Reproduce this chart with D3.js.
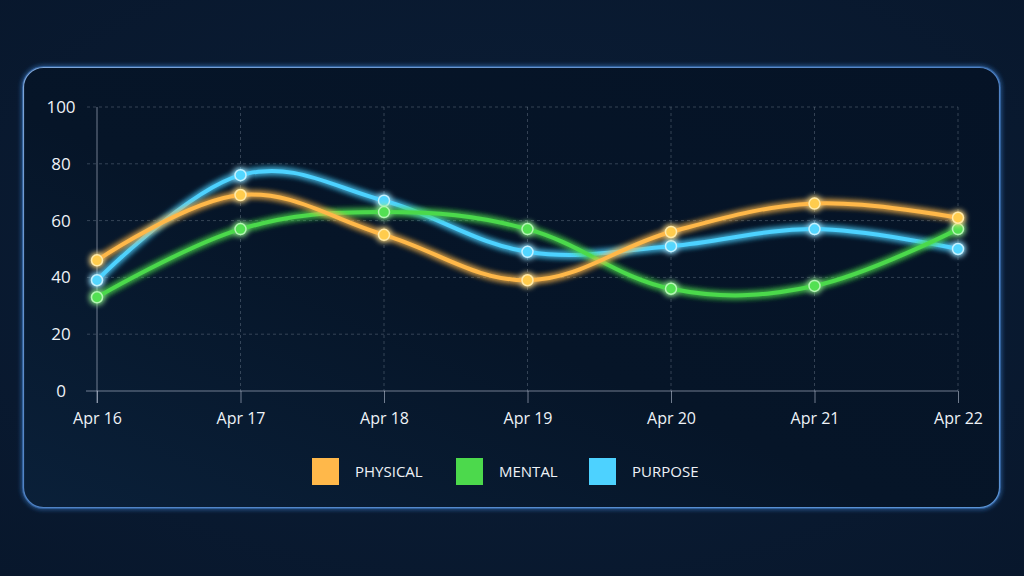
<!DOCTYPE html>
<html>
<head>
<meta charset="utf-8">
<script src="https://cdn.jsdelivr.net/npm/d3@7"></script>
<style>
  body { margin: 0; background: #0a1c34; }
  svg { display: block; font-family: "Open Sans", "Noto Sans", sans-serif; }
</style>
</head>
<body>
<div id="chart-area"></div>
<script>
// Daily wellbeing scores, one value per day

var dates = ["Apr 16", "Apr 17", "Apr 18", "Apr 19", "Apr 20", "Apr 21", "Apr 22"];
var physical = [46, 69, 55, 39, 56, 66, 61];
var mental   = [33, 57, 63, 57, 36, 37, 57];
var purpose  = [39, 76, 67, 49, 51, 57, 50];
var yTicks = [0, 20, 40, 60, 80, 100];

var seriesNames  = ["PHYSICAL", "MENTAL", "PURPOSE"];
var seriesColors = ["#ffb84a", "#4cd94c", "#4dd2ff"];
var pointFills   = ["#ffcc4d", "#52e052", "#52d6ff"];
var pointRings   = ["#ffeaa8", "#b4f5b4", "#c4f1ff"];

var width = 1024, height = 576;
var plot = { left: 97, right: 958, top: 107, bottom: 391 };

var svg = d3.select("#chart-area")
    .append("svg")
        .attr("width", width)
        .attr("height", height);

var defs = svg.append("defs");

// background + card gradients
var bg = defs.append("radialGradient").attr("id", "bg")
    .attr("cx", "50%").attr("cy", "45%").attr("r", "75%");
bg.append("stop").attr("offset", "0%").attr("stop-color", "#0b1e37");
bg.append("stop").attr("offset", "100%").attr("stop-color", "#08172c");

var card = defs.append("linearGradient").attr("id", "card")
    .attr("x1", "0").attr("y1", "1").attr("x2", "1").attr("y2", "0");
card.append("stop").attr("offset", "0%").attr("stop-color", "#0a2039");
card.append("stop").attr("offset", "45%").attr("stop-color", "#061528");
card.append("stop").attr("offset", "100%").attr("stop-color", "#051326");

var border = defs.append("linearGradient").attr("id", "border")
    .attr("x1", "0").attr("y1", "0").attr("x2", "1").attr("y2", "1");
border.append("stop").attr("offset", "0%").attr("stop-color", "#7ea6d8");
border.append("stop").attr("offset", "50%").attr("stop-color", "#4f82c4");
border.append("stop").attr("offset", "100%").attr("stop-color", "#5b94d6");

// glow filter
function glow(id, sd) {
    var f = defs.append("filter").attr("id", id)
        .attr("x", "-20%").attr("y", "-20%").attr("width", "140%").attr("height", "140%");
    f.append("feGaussianBlur").attr("in", "SourceGraphic").attr("stdDeviation", sd).attr("result", "blur");
    var m = f.append("feMerge");
    m.append("feMergeNode").attr("in", "blur");
    m.append("feMergeNode").attr("in", "blur");
    m.append("feMergeNode").attr("in", "SourceGraphic");
}
glow("glow", 3);
glow("cardGlow", 2.5);

svg.append("rect")
    .attr("width", width).attr("height", height)
    .attr("fill", "url(#bg)");

svg.append("rect")
    .attr("x", 23.5).attr("y", 67.5)
    .attr("width", 976).attr("height", 440)
    .attr("rx", 20)
    .attr("fill", "none")
    .attr("stroke", "#3f7cc8")
    .attr("stroke-opacity", 0.5)
    .attr("stroke-width", 3)
    .attr("filter", "url(#cardGlow)");

svg.append("rect")
    .attr("x", 23.5).attr("y", 67.5)
    .attr("width", 976).attr("height", 440)
    .attr("rx", 20)
    .attr("fill", "url(#card)")
    .attr("stroke", "url(#border)")
    .attr("stroke-width", 1.2);

//////////  Scales  ///////////
var x = d3.scalePoint()
    .domain(dates)
    .range([plot.left, plot.right]);

var y = d3.scaleLinear()
    .domain([0, 100])
    .range([plot.bottom, plot.top]);

//////////  Grid  ///////////
var gridColor = "rgba(160,172,190,0.3)";

svg.append("g").selectAll("line.hgrid")
    .data(yTicks.filter(function(d){ return d > 0; }))
    .enter().append("line")
        .attr("x1", plot.left - 10).attr("x2", plot.right)
        .attr("y1", function(d){ return y(d); })
        .attr("y2", function(d){ return y(d); })
        .attr("stroke", gridColor)
        .attr("stroke-dasharray", "3,3");

svg.append("g").selectAll("line.vgrid")
    .data(dates.slice(1))
    .enter().append("line")
        .attr("x1", function(d){ return x(d); })
        .attr("x2", function(d){ return x(d); })
        .attr("y1", plot.top).attr("y2", plot.bottom)
        .attr("stroke", gridColor)
        .attr("stroke-dasharray", "3,3");

//////////  Axes  ///////////
var axisColor = "rgba(200,210,225,0.55)";

// X-Axis
var xAxis = svg.append("g")
    .attr("transform", "translate(0," + plot.bottom + ")")
    .call(d3.axisBottom(x).tickSize(12).tickPadding(10));
xAxis.select(".domain").remove();
xAxis.selectAll("line").attr("stroke", axisColor);
xAxis.selectAll("text")
    .attr("fill", "#eef2f7")
    .attr("font-size", "16px")
    .attr("font-family", "'Open Sans', sans-serif");

svg.append("line")
    .attr("x1", plot.left - 11).attr("x2", plot.right)
    .attr("y1", plot.bottom).attr("y2", plot.bottom)
    .attr("stroke", axisColor);

// Y-Axis
svg.append("line")
    .attr("x1", plot.left).attr("x2", plot.left)
    .attr("y1", plot.top).attr("y2", plot.bottom + 12)
    .attr("stroke", axisColor);

var yAxis = svg.append("g")
    .attr("transform", "translate(" + plot.left + ",0)")
    .call(d3.axisLeft(y).tickValues(yTicks).tickSize(0).tickPadding(0));
yAxis.select(".domain").remove();
yAxis.selectAll("text")
    .attr("x", -36)
    .attr("text-anchor", "middle")
    .attr("fill", "#eef2f7")
    .attr("font-size", "17px")
    .attr("font-family", "'Open Sans', sans-serif");

//////////  Lines  ///////////
var series = [physical, mental, purpose].map(function(vals, i){
    return { name: seriesNames[i], color: seriesColors[i], fill: pointFills[i], ring: pointRings[i],
             values: vals.map(function(v, j){ return { date: dates[j], value: v }; }) };
});

var line = d3.line()
    .x(function(d){ return x(d.date); })
    .y(function(d){ return y(d.value); })
    .curve(d3.curveCardinal.tension(-0.1));

var drawOrder = series.slice().reverse();

var groups = svg.selectAll("g.series")
    .data(drawOrder)
    .enter().append("g")
        .attr("class", "series")
        .attr("filter", "url(#glow)");

groups.append("path")
    .attr("d", function(d){ return line(d.values); })
    .attr("fill", "none")
    .attr("stroke", function(d){ return d.color; })
    .attr("stroke-width", 4)
    .attr("stroke-linecap", "round");

groups.selectAll("circle")
    .data(function(d){ return d.values.map(function(v){ return { v: v, s: d }; }); })
    .enter().append("circle")
        .attr("cx", function(d){ return x(d.v.date); })
        .attr("cy", function(d){ return y(d.v.value); })
        .attr("r", 5.5)
        .attr("fill", function(d){ return d.s.fill; })
        .attr("stroke", function(d){ return d.s.ring; })
        .attr("stroke-width", 1.5);

//////////  Legend  ///////////
var legendX = [312, 456, 589];

var legend = svg.selectAll("g.legend")
    .data(series)
    .enter().append("g")
        .attr("class", "legend")
        .attr("transform", function(d, i){ return "translate(" + legendX[i] + ",458)"; });

legend.append("rect")
    .attr("width", 27).attr("height", 27)
    .attr("fill", function(d){ return d.color; });

legend.append("text")
    .attr("x", 43)
    .attr("y", 14)
    .attr("dy", "0.35em")
    .attr("fill", "#eef2f7")
    .attr("font-size", "15px")
    .text(function(d){ return d.name; });
</script>
</body>
</html>
